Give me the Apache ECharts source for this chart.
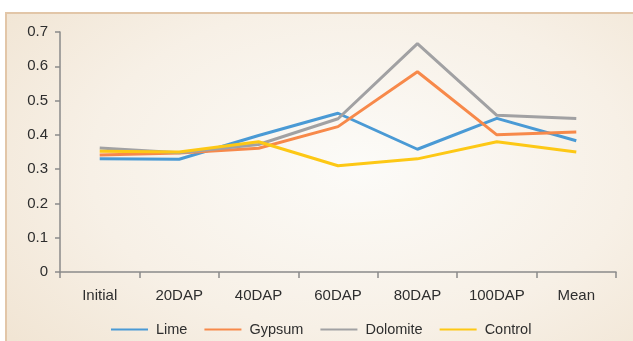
<!DOCTYPE html>
<html>
<head>
<meta charset="utf-8">
<script src="https://cdn.jsdelivr.net/npm/echarts@6/dist/echarts.min.js"></script>
<style>
  html, body { margin: 0; padding: 0; background: #ffffff; overflow: hidden; }
  #frame {
    position: absolute; left: 5px; top: 12px; width: 640px; height: 340px;
    border-left: 2px solid #e2c6a8; border-top: 2px solid #e2c6a8;
    background: radial-gradient(ellipse 70% 80% at 55% 45%, #fcfbf8 0%, #f7f0e6 60%, #f1e5d4 100%);
  }
  #chart { position: absolute; left: 0; top: 0; width: 633px; height: 341px; }
</style>
</head>
<body>
<div id="frame"></div>
<div id="chart"></div>
<script>
// Sampling stages along the x axis
const stages = ['Initial', '20DAP', '40DAP', '60DAP', '80DAP', '100DAP', 'Mean'];

// Measured values per soil amendment
const lime     = [0.330, 0.329, 0.398, 0.463, 0.358, 0.448, 0.383];
const gypsum   = [0.341, 0.347, 0.361, 0.424, 0.584, 0.400, 0.408];
const dolomite = [0.362, 0.348, 0.372, 0.447, 0.666, 0.457, 0.448];
const control  = [0.352, 0.350, 0.380, 0.310, 0.330, 0.380, 0.350];

const seriesNames = ['Lime', 'Gypsum', 'Dolomite', 'Control'];
const seriesData = [lime, gypsum, dolomite, control];
const colors = ['#4a9ad5', '#f7894a', '#a1a1a3', '#fdc815'];

const textStyle = { fontFamily: 'Liberation Sans, Arial, sans-serif', fontSize: 15, color: '#2e2e2e' };

const chart = echarts.init(document.getElementById('chart'), null, { renderer: 'canvas' });
chart.setOption({
  backgroundColor: 'transparent',
  animation: false,
  color: colors,
  grid: { left: 60, right: 17, top: 32, bottom: 69, containLabel: false },
  legend: {
    data: seriesNames,
    left: 106,
    top: 317,
    icon: 'rect',
    itemWidth: 37,
    itemHeight: 2,
    itemGap: 17,
    textStyle: Object.assign({}, textStyle, { fontSize: 14.5, padding: [0, 0, 0, 3] })
  },
  xAxis: {
    type: 'category',
    data: stages,
    boundaryGap: true,
    axisLine: { lineStyle: { color: '#8a8a8a', width: 1.5 } },
    axisTick: { show: true, length: 6, alignWithLabel: false, lineStyle: { color: '#8a8a8a', width: 1.5 } },
    axisLabel: Object.assign({ margin: 16 }, textStyle),
    splitLine: { show: false }
  },
  yAxis: {
    type: 'value',
    min: 0,
    max: 0.7,
    interval: 0.1,
    axisLine: { show: true, lineStyle: { color: '#8a8a8a', width: 1.5 } },
    axisTick: { show: true, length: 5, lineStyle: { color: '#8a8a8a', width: 1.5 } },
    axisLabel: Object.assign({ margin: 12, formatter: v => (v === 0 ? '0' : v.toFixed(1)) }, textStyle),
    splitLine: { show: false }
  },
  series: seriesData.map((d, i) => ({
    name: seriesNames[i],
    type: 'line',
    data: d,
    showSymbol: false,
    symbol: 'none',
    lineStyle: { width: 3, color: colors[i] },
    itemStyle: { color: colors[i] }
  }))
});
</script>
</body>
</html>
